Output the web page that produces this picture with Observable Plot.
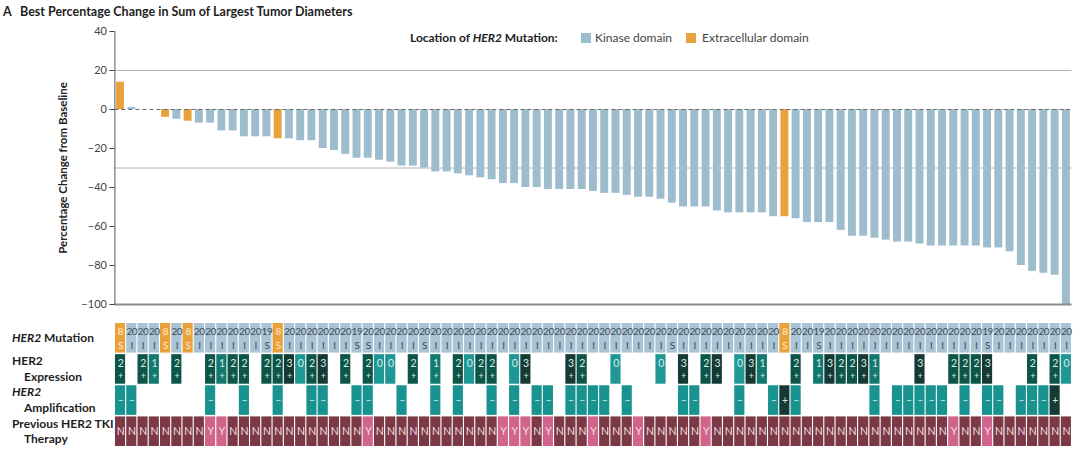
<!DOCTYPE html>
<html><head><meta charset="utf-8">
<script src="https://cdn.jsdelivr.net/npm/d3@7"></script>
<script src="https://cdn.jsdelivr.net/npm/@observablehq/plot@0.6"></script>
<style>
body{margin:0;background:#fff;font-family:Lato,"Open Sans",sans-serif;color:#222;}
#root{position:relative;width:1080px;height:453px;overflow:hidden;}
.abs{position:absolute;white-space:nowrap;}
.lbl{font-weight:bold;font-size:12px;color:#1e1e1e;line-height:15px;z-index:5;}
.leg{font-size:12px;color:#444;line-height:14px;top:31px;}
#chart1 g[aria-label="y-axis label"] text{font-weight:bold;font-size:11.5px;fill:#222;}
#chart2 text{letter-spacing:-0.4px;}
.sw{position:absolute;width:10px;height:10px;top:33px;}
</style></head><body>
<div id="root">
  <div id="chart1" class="abs" style="left:0;top:0"></div>
  <div id="chart2" class="abs" style="left:0;top:322px"></div>
  <div class="abs" style="left:3px;top:4px;font-weight:bold;font-size:12.5px;color:#1e1e1e">A<span style="position:absolute;left:17px">Best Percentage Change in Sum of Largest Tumor Diameters</span></div>
  <div class="abs leg" style="left:410px;font-weight:bold;color:#222">Location of <i>HER2</i> Mutation:</div>
  <div class="sw" style="left:581px;background:#9dbccd"></div>
  <div class="abs leg" style="left:595px">Kinase domain</div>
  <div class="sw" style="left:686px;background:#e9a13b"></div>
  <div class="abs leg" style="left:702px">Extracellular domain</div>
  <div class="abs lbl" style="left:12px;top:330px"><i>HER2</i> Mutation</div>
  <div class="abs lbl" style="left:12px;top:353px">HER2</div>
  <div class="abs lbl" style="left:24px;top:369px">Expression</div>
  <div class="abs lbl" style="left:12px;top:384px"><i>HER2</i></div>
  <div class="abs lbl" style="left:24px;top:400px">Amplification</div>
  <div class="abs lbl" style="left:12px;top:416px">Previous HER2 TKI</div>
  <div class="abs lbl" style="left:24px;top:431px">Therapy</div>
</div>
<script>
// ---- data ----
const values = [14,1,0,0,-4,-5,-6,-7,-7,-11,
  -11,-14,-14,-14,-15,-15,-16,-16,-20,-21,
  -23,-25,-25,-26,-27,-29,-29,-30,-32,-32,
  -33,-34,-35,-36,-38,-38,-40,-40,-41,-41,
  -41,-41,-42,-43,-43,-44,-45,-45,-46,-48,
  -50,-50,-50,-52,-53,-53,-53,-53,-55,-55,
  -56,-58,-58,-58,-62,-65,-65,-66,-67,-68,
  -68,-69,-70,-70,-70,-70,-70,-71,-71,-73,
  -80,-83,-84,-85,-100];
const location_ = ["E","K","K","K","E","K","E","K","K","K",
  "K","K","K","K","E","K","K","K","K","K",
  "K","K","K","K","K","K","K","K","K","K",
  "K","K","K","K","K","K","K","K","K","K",
  "K","K","K","K","K","K","K","K","K","K",
  "K","K","K","K","K","K","K","K","K","E",
  "K","K","K","K","K","K","K","K","K","K",
  "K","K","K","K","K","K","K","K","K","K",
  "K","K","K","K","K"];
const exon = [8,20,20,20,8,20,8,20,20,20,
  20,20,20,19,8,20,20,20,20,20,
  20,19,20,20,20,20,20,20,20,20,
  20,20,20,20,20,20,20,20,20,20,
  20,20,20,20,20,20,20,20,20,20,
  20,20,20,20,20,20,20,20,20,8,
  20,20,19,20,20,20,20,20,20,20,
  20,20,20,20,20,20,20,19,20,20,
  20,20,20,20,20];
const mutType = ["S","I","I","I","S","I","S","I","I","I",
  "I","I","I","S","S","I","I","I","I","I",
  "I","S","S","I","I","I","I","S","I","I",
  "I","I","I","I","I","I","I","I","I","I",
  "I","I","I","I","I","I","I","I","I","S",
  "I","I","I","I","I","I","I","I","I","S",
  "I","I","S","I","I","I","I","I","I","I",
  "I","I","I","I","I","I","I","S","I","I",
  "I","I","I","I","I"];
const expression = ["2+","","2+","1+","","2+","","","2+","1+",
  "2+","2+","","2+","2+","3+","0","2+","3+","",
  "2+","","2+","0","0","","2+","","1+","",
  "2+","0","2+","2+","","0","3+","","","",
  "3+","2+","","","0","","","","0","",
  "3+","","2+","3+","","0","3+","1+","","",
  "2+","","1+","3+","2+","2+","3+","1+","","",
  "","3+","","","2+","2+","2+","3+","","",
  "","2+","","2+","0"];
const amplification = ["-","-","","","","","","","-","",
  "","-","","","-","","","-","-","",
  "","-","-","","","-","","","-","",
  "-","","","-","","-","","-","-","",
  "-","-","-","-","","-","","","","",
  "-","-","","","","-","","","-","+",
  "-","","","","","","","-","","-",
  "-","-","-","-","","-","","-","-","",
  "-","-","-","+",""];
const tki = ["N","N","N","N","N","N","N","N","Y","Y",
  "N","N","N","N","N","N","N","N","N","N",
  "N","N","Y","N","N","N","N","N","N","N",
  "N","N","N","N","Y","Y","Y","N","Y","N",
  "N","N","Y","N","N","N","Y","N","N","N",
  "N","N","Y","N","N","N","N","N","N","N",
  "N","N","N","N","N","N","N","N","N","N",
  "N","N","N","N","Y","N","N","Y","N","N",
  "N","N","N","N","N"];
const yTicks = [40,20,0,-20,-40,-60,-80,-100];
const refLines = [20,-30];
const locNames = {K:"Kinase domain", E:"Extracellular domain"};

// ---- styling ----
const barColors = {"Kinase domain":"#9dbccd","Extracellular domain":"#e9a13b"};
const mutFill = {K:"#a9c4d4", E:"#e9a13b"};
const mutText = {K:"#3b4c58", E:"#fdecc8"};
const expFill = {"0":"#1f9794","1+":"#12796f","2+":"#0e5549","3+":"#153a33"};
const ampFill = {"-":"#18938f","+":"#153a33"};
const tkiFill = {N:"#7b3845", Y:"#d0648a"};

const n = values.length;
const idx = d3.range(n);
const L = 114.4, R = 8.5;

const bars = idx.map(i => ({i, value: values[i], loc: locNames[location_[i]]}));
const chart1 = Plot.plot({
  width: 1080, height: 312, marginLeft: L, marginRight: R, marginTop: 31, marginBottom: 8,
  style: {fontFamily: "Lato, sans-serif", fontSize: "11px", color: "#444", background: "transparent"},
  x: {type: "band", domain: idx, paddingInner: 0.3, paddingOuter: 0.15, round: false, axis: null},
  y: {domain: [-100, 40]},
  color: {domain: Object.keys(barColors), range: Object.values(barColors)},
  marks: [
    Plot.ruleY(refLines, {stroke: "#b4b4b4", strokeWidth: 1}),
    Plot.barY(bars, {x: "i", y1: 0, y2: "value", fill: "loc"}),
    Plot.ruleY([0], {stroke: "#6a6a6a", strokeDasharray: "4,3"}),
    Plot.ruleY([-100], {stroke: "#8c8c8c", strokeWidth: 2}),
    Plot.axisY({ticks: yTicks, tickSize: 5, tickPadding: 3, label: "Percentage Change from Baseline",
      labelAnchor: "center", labelOffset: 56, labelArrow: "none"}),
    Plot.frame({anchor: "left", stroke: "#555"})
  ]
});
document.getElementById("chart1").appendChild(chart1);

const cells = [];
idx.forEach(i => {
  const loc = location_[i];
  cells.push({i, row: "mut", fill: mutFill[loc], top: String(exon[i]), bot: mutType[i], tc: mutText[loc]});
  if (expression[i]) cells.push({i, row: "exp", fill: expFill[expression[i]], top: expression[i][0], bot: expression[i].slice(1), tc: "#d6ece8"});
  if (amplification[i]) cells.push({i, row: "amp", fill: ampFill[amplification[i]], mid: amplification[i] === "-" ? "–" : "+", tc: "#cfe9e5"});
  cells.push({i, row: "tki", fill: tkiFill[tki[i]], mid: tki[i], tc: "#f3dfe3"});
});
const mutCells = cells.filter(d => d.row === "mut");
const expCells = cells.filter(d => d.row === "exp");
const midCells = cells.filter(d => d.mid != null);

const chart2 = Plot.plot({
  width: 1080, height: 125, marginLeft: L, marginRight: R, marginTop: 1, marginBottom: 1,
  style: {fontFamily: "Lato, sans-serif", background: "transparent"},
  x: {type: "band", domain: idx, paddingInner: 0.1, paddingOuter: 0.05, round: false, axis: null},
  y: {type: "band", domain: ["mut","exp","amp","tki"], paddingInner: 0.05, paddingOuter: 0, round: false, axis: null},
  color: {type: "identity"},
  marks: [
    Plot.cell(cells, {x: "i", y: "row", fill: "fill"}),
    Plot.text(mutCells, {x: "i", y: "row", text: "top", dy: -6.5, fill: "tc", fontSize: 10}),
    Plot.text(mutCells, {x: "i", y: "row", text: "bot", dy: 7.5, fill: "tc", fontSize: 10}),
    Plot.text(expCells, {x: "i", y: "row", text: "top", dy: -6, fill: "tc", fontSize: 10.5}),
    Plot.text(expCells, {x: "i", y: "row", text: "bot", dy: 7, fill: "tc", fontSize: 9}),
    Plot.text(midCells, {x: "i", y: "row", text: "mid", fill: "tc", fontSize: 10.5})
  ]
});
document.getElementById("chart2").appendChild(chart2);
</script>
</body></html>
